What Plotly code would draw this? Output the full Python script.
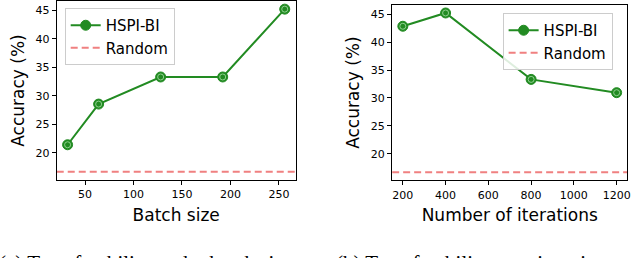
import plotly.graph_objects as go

# Data
batch_sizes = [32, 64, 128, 192, 256]
acc_batch = [21.43, 28.57, 33.33, 33.33, 45.24]
iterations = [200, 400, 800, 1200]
acc_iter = [42.86, 45.24, 33.33, 30.95]
random_acc = 16.67
y_ticks = [20, 25, 30, 35, 40, 45]
x_ticks_left = [50, 100, 150, 200, 250]
x_ticks_right = [200, 400, 600, 800, 1000, 1200]

W, H = 636, 258
GREEN = "#228b22"
RED = "#f08080"
FONT = "DejaVu Sans"

xr_left = [20.8, 267.2]
xr_right = [150, 1250]
yr = [15.24, 46.67]

fig = go.Figure()

def add_panel(xs, ys, xa, ya, xr, legend):
    fig.add_trace(go.Scatter(x=xs, y=ys, mode="lines+markers", name="HSPI-BI",
                             line=dict(color=GREEN, width=2),
                             marker=dict(size=10, color=GREEN, line=dict(color=GREEN, width=1)),
                             xaxis=xa, yaxis=ya, legend=legend))
    fig.add_trace(go.Scatter(x=xs, y=ys, mode="markers", showlegend=False,
                             marker=dict(size=6, symbol="circle-open", color="#8fd08f",
                                         line=dict(color="#8fd08f", width=1)),
                             xaxis=xa, yaxis=ya, hoverinfo="skip"))
    fig.add_trace(go.Scatter(x=xr, y=[random_acc, random_acc], mode="lines", name="Random",
                             line=dict(color=RED, width=2, dash="7px,4px"),
                             xaxis=xa, yaxis=ya, legend=legend))

add_panel(batch_sizes, acc_batch, "x", "y", xr_left, "legend")
add_panel(iterations, acc_iter, "x2", "y2", xr_right, "legend2")

axis_common = dict(showline=True, mirror=True, linecolor="black", linewidth=1.2,
                   ticks="outside", ticklen=4, tickwidth=1, tickcolor="black",
                   showgrid=False, zeroline=False,
                   tickfont=dict(family=FONT, size=11, color="black"))

fig.update_layout(
    width=W, height=H, margin=dict(l=0, r=0, t=0, b=0),
    paper_bgcolor="white", plot_bgcolor="white",
    font=dict(family=FONT, color="black"),
    xaxis=dict(domain=[57 / W, 297 / W], range=xr_left, tickvals=x_ticks_left,
               title=dict(text="Batch size", font=dict(size=17), standoff=8), anchor="y", **axis_common),
    yaxis=dict(domain=[1 - 180 / H, 1 - 1 / H], range=yr, tickvals=y_ticks,
               title=dict(text="Accuracy (%)", font=dict(size=17), standoff=6), anchor="x", **axis_common),
    xaxis2=dict(domain=[394 / W, 630.3 / W], range=xr_right, tickvals=x_ticks_right,
                title=dict(text="Number of iterations", font=dict(size=17), standoff=8), anchor="y2", **axis_common),
    yaxis2=dict(domain=[1 - 180.3 / H, 1 - 5 / H], range=yr, tickvals=y_ticks,
                title=dict(text="Accuracy (%)", font=dict(size=17), standoff=6), anchor="x2", **axis_common),
    legend=dict(x=65 / W, y=1 - 8 / H, xanchor="left", yanchor="top",
                bgcolor="rgba(255,255,255,0.85)", bordercolor="#cccccc", borderwidth=1,
                font=dict(family=FONT, size=15), itemwidth=30, tracegroupgap=0),
    legend2=dict(x=505 / W, y=1 - 13 / H, xanchor="left", yanchor="top",
                 bgcolor="rgba(255,255,255,0.85)", bordercolor="#cccccc", borderwidth=1,
                 font=dict(family=FONT, size=15), itemwidth=30, tracegroupgap=0),
    annotations=[
        dict(text="(a) Transferability under batch size", xref="paper", yref="paper",
             x=-3 / W, y=1 - 249 / H, xanchor="left", yanchor="top", showarrow=False,
             font=dict(family="Liberation Serif", size=21, color="black")),
        dict(text="(b) Transferability over iterations", xref="paper", yref="paper",
             x=336 / W, y=1 - 249 / H, xanchor="left", yanchor="top", showarrow=False,
             font=dict(family="Liberation Serif", size=21, color="black")),
    ],
)

fig.write_html("out.html", config={"displayModeBar": False},
               post_script="document.body.style.margin='0';document.body.style.overflow='hidden';")
